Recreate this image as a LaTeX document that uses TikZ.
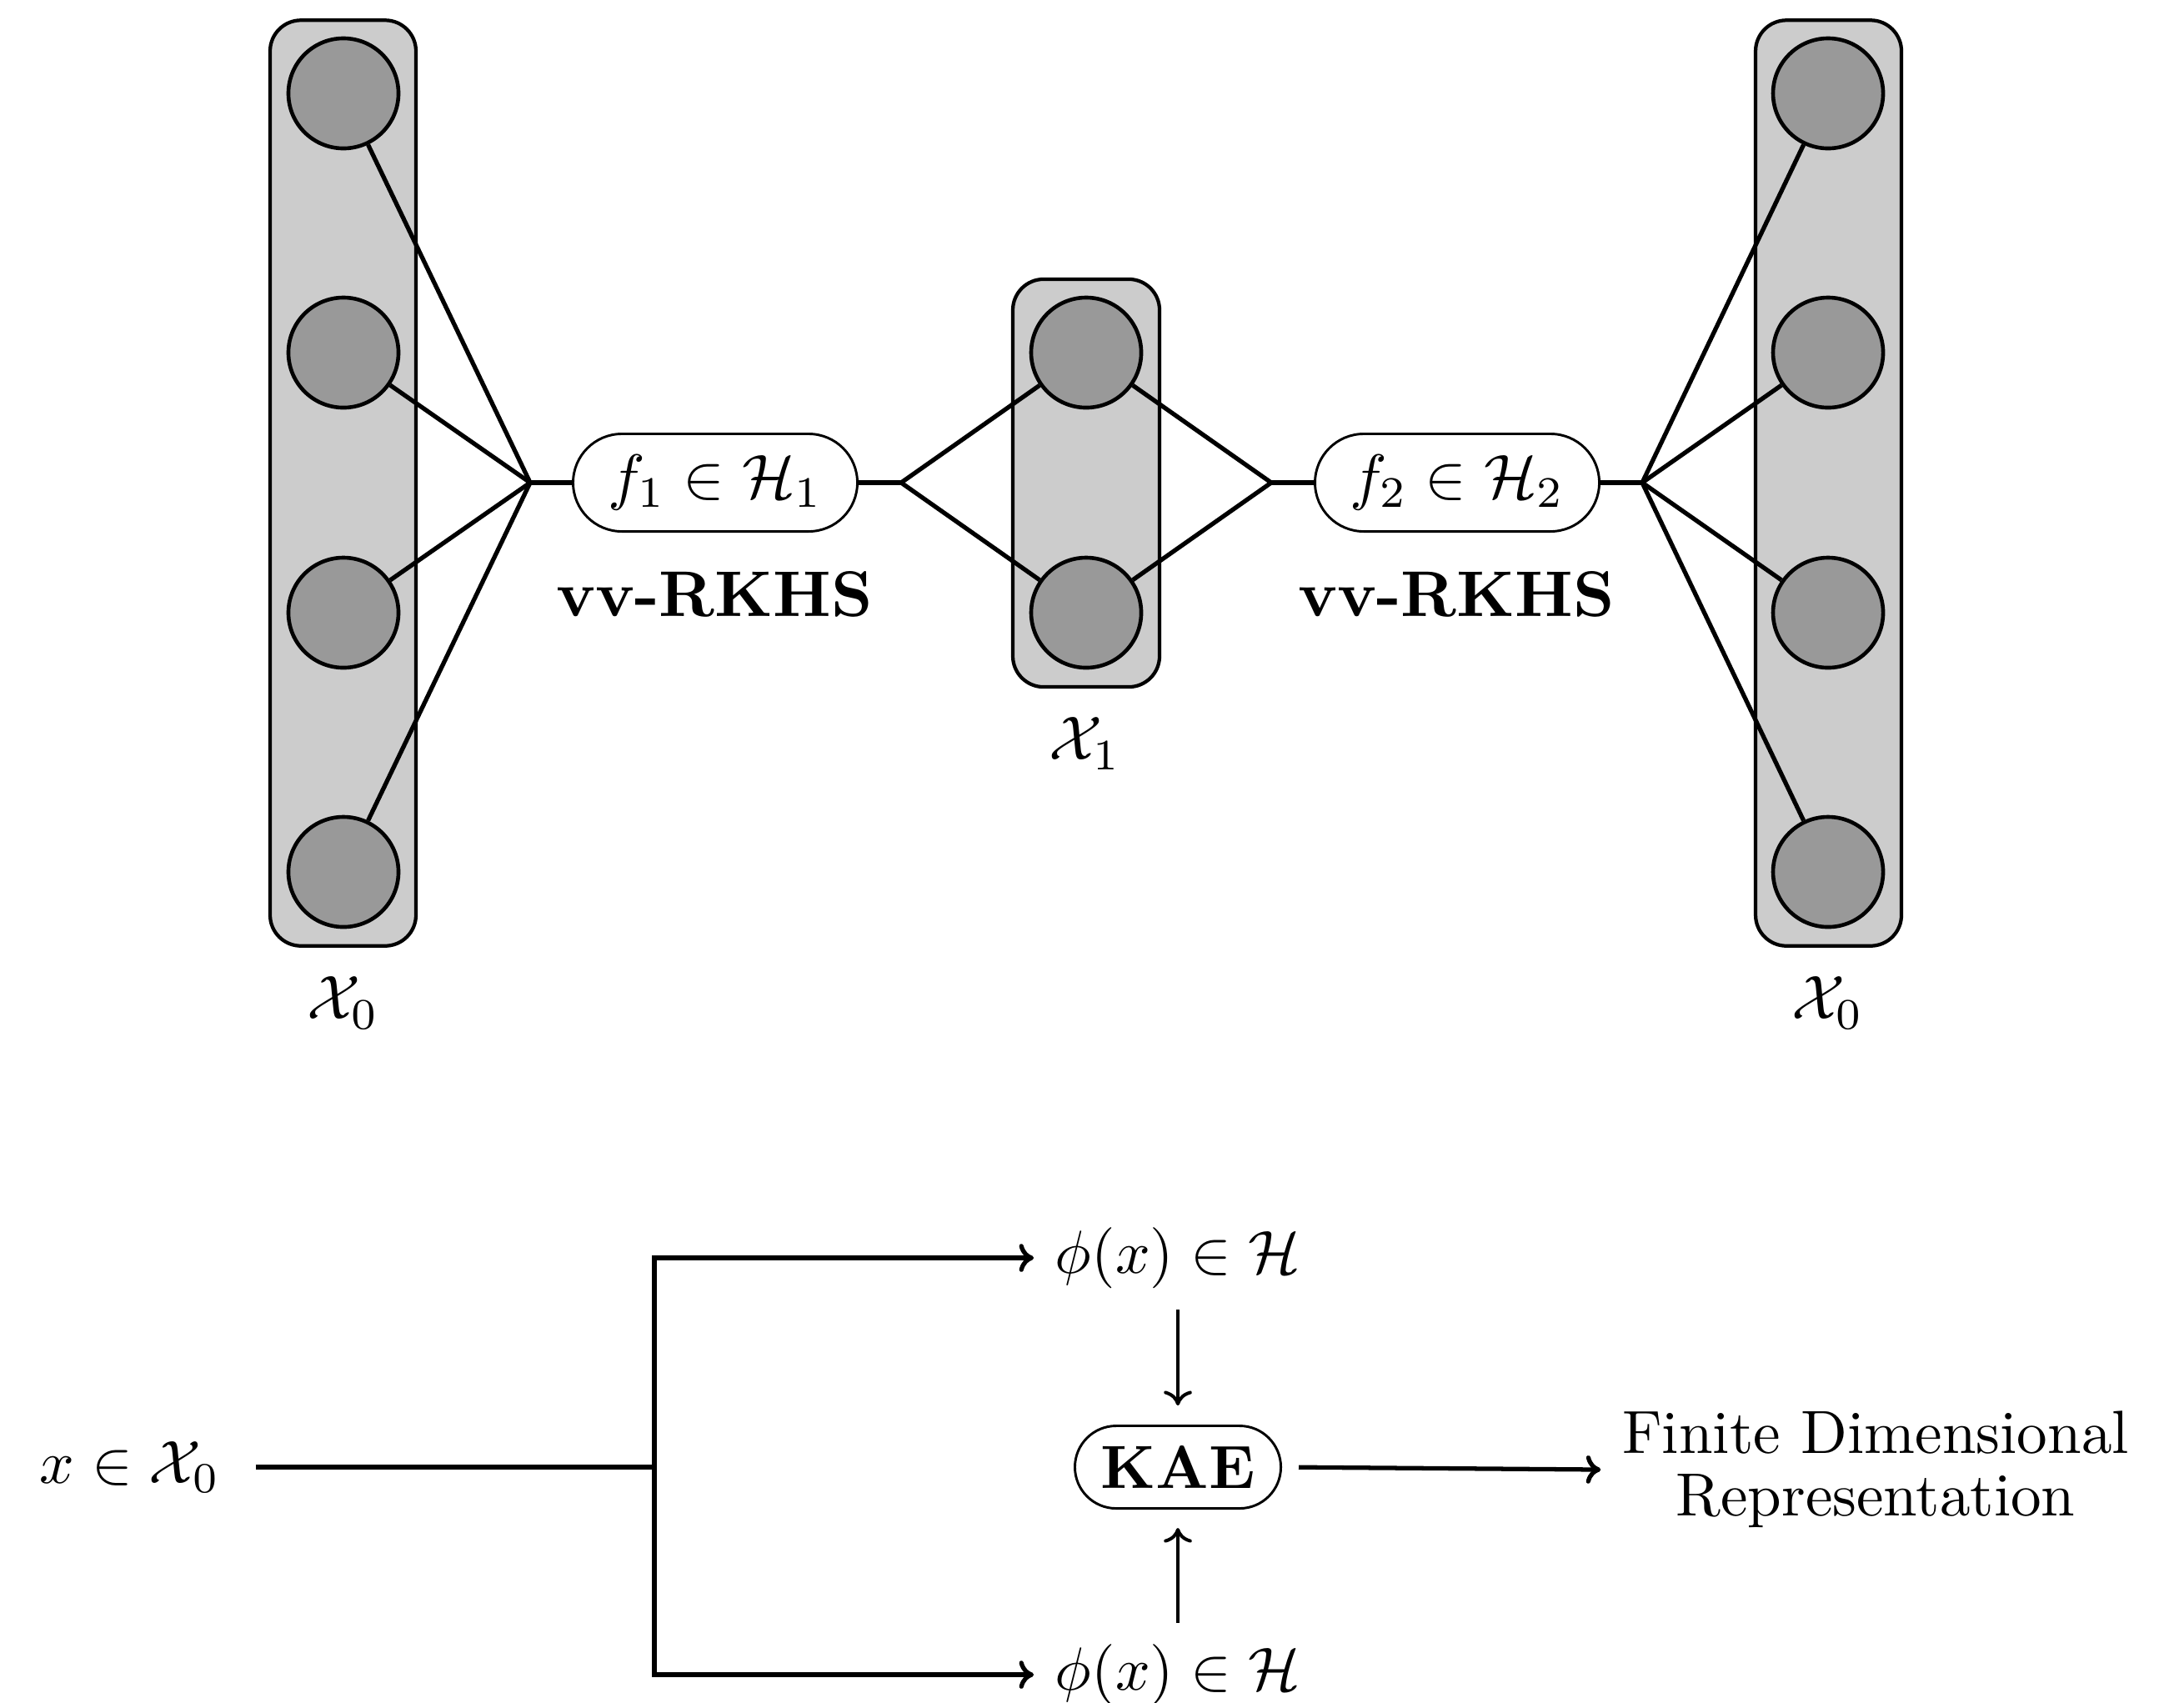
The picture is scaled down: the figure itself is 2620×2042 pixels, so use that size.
\RequirePackage{fix-cm}
\documentclass[tikz,border=0pt]{standalone}
\usepackage{amsmath,amssymb}
\usetikzlibrary{shapes.misc,arrows.meta}
\begin{document}
\begin{tikzpicture}[x=0.0048077cm,y=-0.0048077cm,
  layerbox/.style={draw, line width=0.58pt, fill=black!20, rounded corners=0.178cm, inner sep=0pt},
  neuron/.style={circle, draw, line width=0.63pt, fill=black!40, minimum size=0.6346cm, inner sep=0pt},
  conn/.style={line width=0.72pt},
  fbox/.style={rounded rectangle, draw, line width=0.4pt, fill=white, minimum width=1.639cm, minimum height=0.5625cm, inner sep=0pt, font=\fontsize{10.2}{12}\selectfont},
  mathlbl/.style={font=\fontsize{10.2}{12}\selectfont, inner sep=0pt},
  boldlbl/.style={font=\fontsize{10.6}{12.5}\selectfont, inner sep=0pt},
  btxt/.style={font=\fontsize{10}{12}\selectfont},
  fintxt/.style={font=\fontsize{10}{10.3}\selectfont, align=center},
  kaebox/.style={rounded rectangle, draw, line width=0.4pt, minimum width=1.1875cm, minimum height=0.476cm, inner sep=0pt, font=\fontsize{10}{12}\selectfont},
  tip/.style={-{To[length=2.4pt,width=4.6pt]}},
  harr/.style={line width=0.72pt, tip},
  varr/.style={line width=0.55pt, tip},
  bline/.style={line width=0.72pt}
]
\useasboundingbox (0,0) rectangle (2620,2042);

% layer boxes
\node[layerbox, minimum width=0.841cm, minimum height=5.337cm] (boxL) at (411.5,579.5) {};
\node[layerbox, minimum width=0.846cm, minimum height=2.351cm] (boxM) at (1303,579.5) {};
\node[layerbox, minimum width=0.841cm, minimum height=5.337cm] (boxR) at (2193.5,579.5) {};

% neurons
\node[neuron] (L1) at (412,112) {};
\node[neuron] (L2) at (412,423) {};
\node[neuron] (L3) at (412,735) {};
\node[neuron] (L4) at (412,1046) {};
\node[neuron] (M1) at (1303,423) {};
\node[neuron] (M2) at (1303,735) {};
\node[neuron] (R1) at (2193,112) {};
\node[neuron] (R2) at (2193,423) {};
\node[neuron] (R3) at (2193,735) {};
\node[neuron] (R4) at (2193,1046) {};

% junctions
\coordinate (J1) at (636,579);
\coordinate (J2) at (1081,579);
\coordinate (J3) at (1525,579);
\coordinate (J4) at (1970,579);

% function boxes
\node[fbox] (f1) at (858,579) {$f_1\in\mathcal{H}_1$};
\node[fbox] (f2) at (1748,579) {$f_2\in\mathcal{H}_2$};

% connections
\foreach \n in {L1,L2,L3,L4} \draw[conn] (\n) -- (J1);
\draw[conn] (J1) -- (f1.west);
\draw[conn] (f1.east) -- (J2);
\foreach \n in {M1,M2} \draw[conn] (J2) -- (\n);
\foreach \n in {M1,M2} \draw[conn] (\n) -- (J3);
\draw[conn] (J3) -- (f2.west);
\draw[conn] (f2.east) -- (J4);
\foreach \n in {R1,R2,R3,R4} \draw[conn] (J4) -- (\n);

% labels
\node[boldlbl] (rk1) at (857,713) {\textbf{vv-RKHS}};
\node[boldlbl] (rk2) at (1747,713) {\textbf{vv-RKHS}};
\node[mathlbl] (x0L) at (412,1203) {$\mathcal{X}_0$};
\node[mathlbl] (x1M) at (1302,892) {$\mathcal{X}_1$};
\node[mathlbl] (x0R) at (2193,1203) {$\mathcal{X}_0$};

% bottom diagram
\node[btxt] (xin) at (156,1760) {$x\in\mathcal{X}_0$};
\coordinate (split) at (785,1760);
\node[btxt] (phi1) at (1413,1509) {$\phi(x)\in\mathcal{H}$};
\node[btxt] (phi2) at (1413,2009) {$\phi(x)\in\mathcal{H}$};
\node[kaebox] (kae) at (1413,1760) {\textbf{KAE}};
\node[fintxt] (fin) at (2250,1763) {Finite Dimensional\\Representation};

\draw[bline, shorten <=0.081cm] (xin.east) -- (split);
\draw[harr] (split) |- (phi1.west);
\draw[harr] (split) |- (phi2.west);
\draw[varr, shorten >=0.1106cm] (phi1.south) -- (kae.north);
\draw[varr, shorten >=0.1058cm] (phi2.north) -- (kae.south);
\draw[harr, shorten <=0.096cm] (kae.east) -- (fin.west);
\end{tikzpicture}
\end{document}
